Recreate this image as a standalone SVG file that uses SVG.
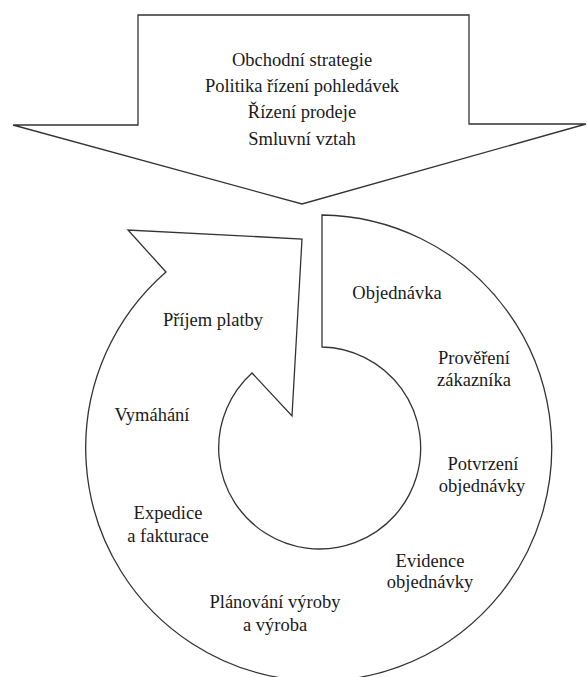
<svg xmlns="http://www.w3.org/2000/svg" width="587" height="677" viewBox="0 0 587 677">
<style>
.shape{fill:#fff;stroke:#333;stroke-width:1.3;stroke-linejoin:miter}
text{font-family:"Liberation Serif","Times New Roman",serif;font-size:18.5px;fill:#1a1a1a;text-anchor:middle}
</style>
<rect width="587" height="677" fill="#fff"/>
<g id="strategy-arrow">
<path class="shape" d="M138,15 L469,15 L469,124 L586,124 L302,204 L13,125 L138,125 Z"/>
<text x="302" y="66">Obchodní strategie</text>
<text x="302" y="92">Politika řízení pohledávek</text>
<text x="302" y="118">Řízení prodeje</text>
<text x="302" y="145">Smluvní vztah</text>
</g>
<g id="cycle">
<path class="shape" d="M322,215 A233,233 0 1 1 166,272 L128,230 L302,239 L292,416 L252,373 A101,101 0 1 0 322,347 Z"/>
</g>
<g id="labels">
<g id="objednavka"><text x="397" y="299">Objednávka</text></g>
<g id="provereni"><text x="474" y="364">Prověření</text><text x="474" y="386">zákazníka</text></g>
<g id="potvrzeni"><text x="483" y="470">Potvrzení</text><text x="482" y="492">objednávky</text></g>
<g id="evidence"><text x="430" y="567">Evidence</text><text x="430" y="588">objednávky</text></g>
<g id="planovani"><text x="275" y="608">Plánování výroby</text><text x="275" y="631">a výroba</text></g>
<g id="expedice"><text x="168" y="519">Expedice</text><text x="168" y="542">a fakturace</text></g>
<g id="vymahani"><text x="152" y="421">Vymáhání</text></g>
<g id="prijem"><text x="213" y="326">Příjem platby</text></g>
</g>
</svg>
